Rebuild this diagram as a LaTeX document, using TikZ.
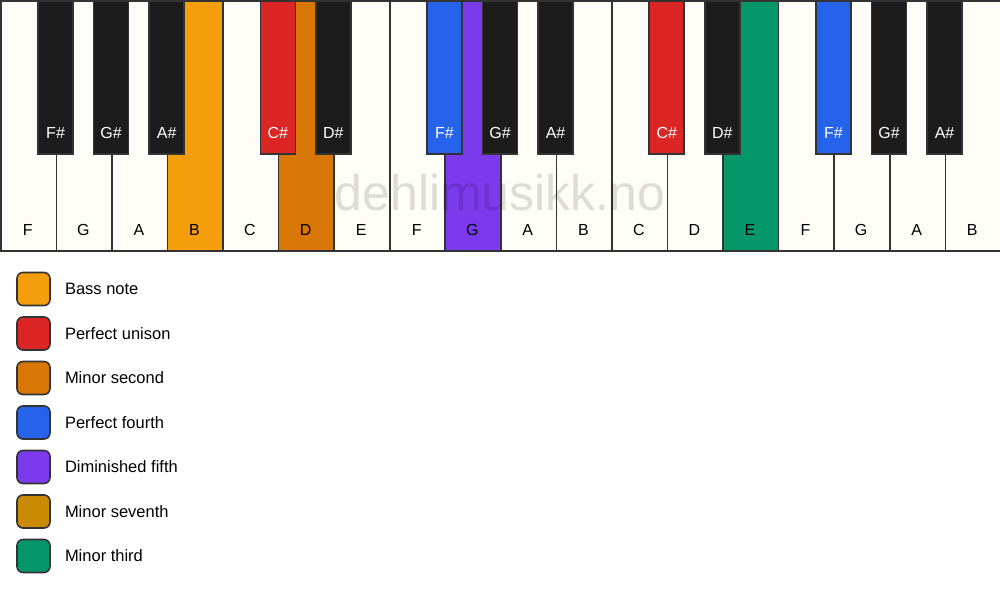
\documentclass[tikz,border=0pt]{standalone}
\usepackage{fontspec}
\setmainfont{Liberation Sans}
\usetikzlibrary{positioning}

\definecolor{keywhite}{HTML}{FFFDF8}
\definecolor{keyblack}{HTML}{1C1C1C}
\definecolor{keyline}{HTML}{333333}
\definecolor{bassnote}{HTML}{F59E0B}
\definecolor{unison}{HTML}{DC2626}
\definecolor{minsecond}{HTML}{D97706}
\definecolor{perffourth}{HTML}{2563EB}
\definecolor{dimfifth}{HTML}{7C3AED}
\definecolor{minseventh}{HTML}{CA8A04}
\definecolor{minthird}{HTML}{059669}

\begin{document}
\begin{tikzpicture}[
    x=1pt, y=-1pt,
    whitekey/.style={draw=keyline, line width=1.6pt, fill=keywhite, minimum width=55.56pt, minimum height=250pt, inner sep=0pt, anchor=north west},
    blackkey/.style={draw=keyline, line width=1.6pt, fill=keyblack, minimum width=35pt, minimum height=153pt, inner sep=0pt, anchor=north},
    whitename/.style={font=\fontsize{16}{19}\selectfont, text=black},
    blackname/.style={font=\fontsize{16}{19}\selectfont, text=white},
    swatch/.style={draw=keyline, line width=1.6pt, rounded corners=6pt, minimum size=33pt, inner sep=0pt},
    legendtext/.style={font=\fontsize{16.5}{20}\selectfont, anchor=west, inner sep=0pt},
    watermark/.style={font=\fontsize{50}{60}\selectfont, text=black, text opacity=0.13}
    ]
    \useasboundingbox [fill=white] (0,0) rectangle (1000,594);

    % white keys
    \foreach \name/\col [count=\i from 0] in {
        F/keywhite, G/keywhite, A/keywhite, B/bassnote, C/keywhite, D/minsecond,
        E/keywhite, F/keywhite, G/dimfifth, A/keywhite, B/keywhite, C/keywhite,
        D/keywhite, E/minthird, F/keywhite, G/keywhite, A/keywhite, B/keywhite} {
        \node [whitekey, fill=\col] (w\i) at (\i*55.56,0) {};
        \node [whitename] (wn\i) at (\i*55.56+27.78,230) {\name};
    }

    % black keys
    \foreach \i/\name/\col in {
        1/F\#/keyblack, 2/G\#/keyblack, 3/A\#/keyblack, 5/C\#/unison, 6/D\#/keyblack,
        8/F\#/perffourth, 9/G\#/keyblack, 10/A\#/keyblack, 12/C\#/unison, 13/D\#/keyblack,
        15/F\#/perffourth, 16/G\#/keyblack, 17/A\#/keyblack} {
        \node [blackkey, fill=\col] (b\i) at (\i*55.56,0) {};
        \node [blackname] (bn\i) at (\i*55.56,133) {\name};
    }

    \node [watermark] (wm) at (500,193) {dehlimusikk.no};

    % legend
    \foreach \col/\txt [count=\k from 0] in {
        bassnote/Bass note, unison/Perfect unison, minsecond/Minor second,
        perffourth/Perfect fourth, dimfifth/Diminished fifth,
        minseventh/Minor seventh, minthird/Minor third} {
        \node [swatch, fill=\col] (s\k) at (33.5,289+\k*44.5) {};
        \node [legendtext, right=14pt of s\k] (t\k) {\txt};
    }
\end{tikzpicture}
\end{document}
